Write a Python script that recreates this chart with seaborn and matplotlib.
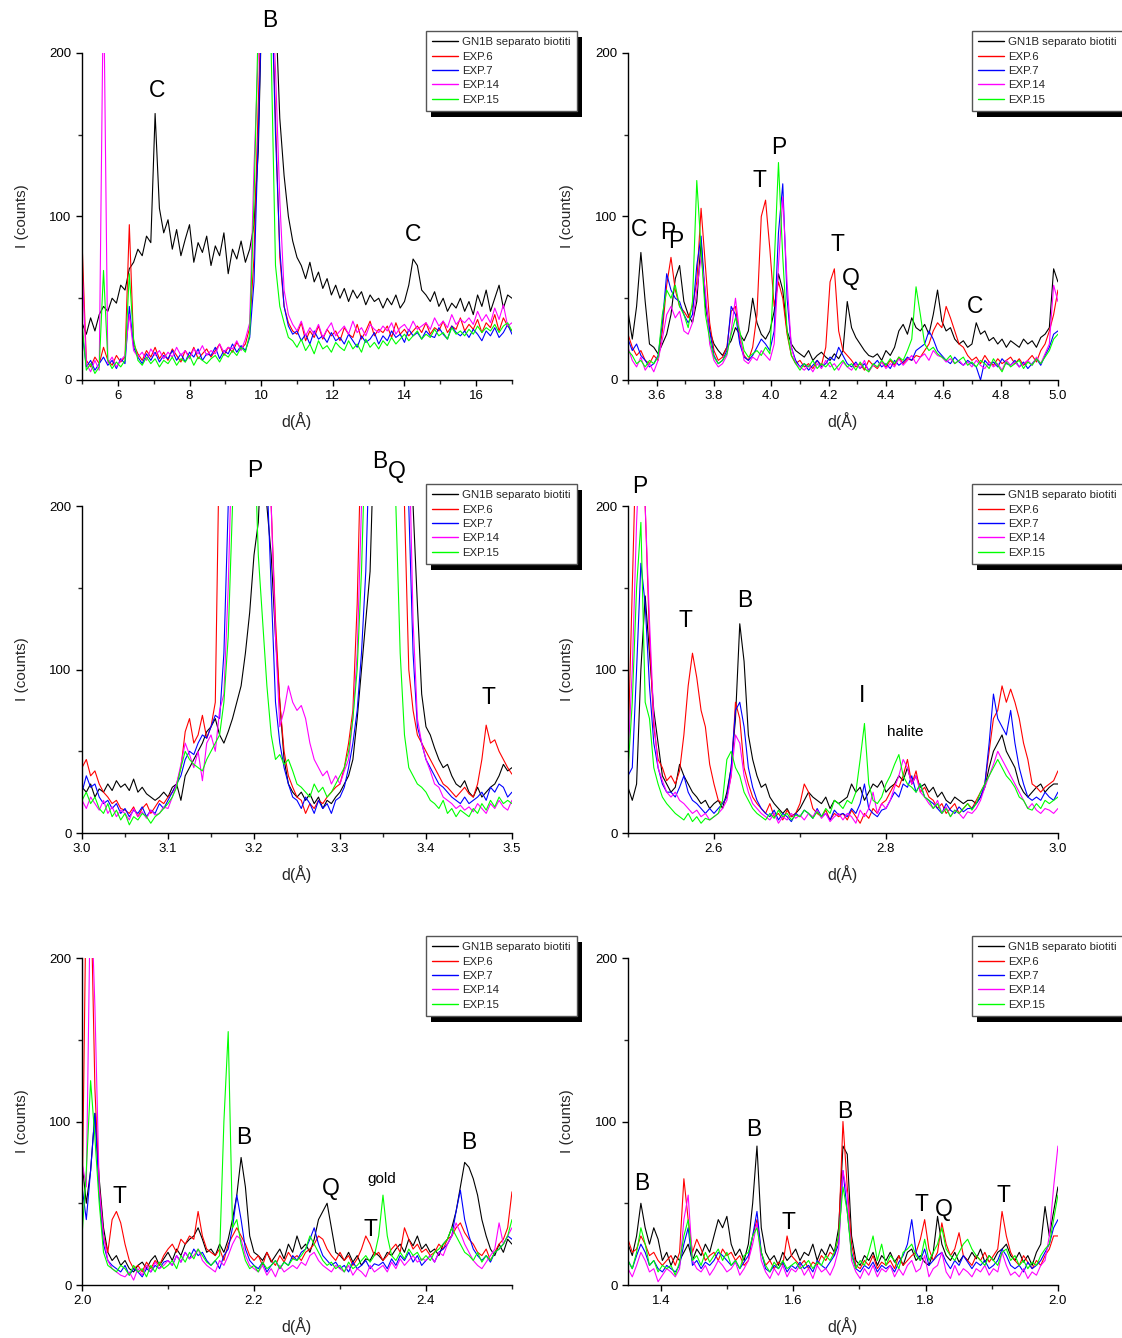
import numpy as np
import matplotlib
matplotlib.use("Agg")
import matplotlib.pyplot as plt
import seaborn as sns
from matplotlib.lines import Line2D
from matplotlib.patches import Rectangle
from matplotlib.ticker import MultipleLocator, FormatStrFormatter

series_names = ["GN1B separato biotiti", "EXP.6", "EXP.7", "EXP.14", "EXP.15"]
series_colors = ["#000000", "#FF0000", "#0000FF", "#FF00FF", "#00FF00"]

# ---------------- panel 1 : d 5 - 17 A ----------------
p1_range = (5.0, 17.0)
p1_black = [35, 28, 38, 30, 40, 45, 42, 50, 47, 58,
            55, 68, 72, 80, 76, 88, 84, 163, 105, 90,
            98, 80, 92, 76, 86, 95, 72, 84, 78, 88,
            70, 82, 76, 90, 65, 80, 74, 85, 72, 80,
            95, 140, 250, 250, 250, 230, 160, 125, 100, 85,
            75, 70, 62, 72, 60, 66, 56, 62, 52, 58,
            50, 56, 48, 55, 50, 54, 46, 52, 48, 50,
            44, 50, 46, 52, 44, 48, 58, 74, 70, 55,
            52, 48, 54, 45, 50, 42, 47, 44, 50, 42,
            48, 40, 52, 45, 55, 42, 50, 58, 44, 52, 50]
p1_exp6 = [85, 12, 8, 14, 10, 20, 12, 9, 15, 11,
           14, 95, 22, 16, 12, 18, 14, 20, 13, 17,
           12, 19, 15, 11, 18, 14, 20, 13, 16, 19,
           14, 18, 22, 15, 20, 17, 23, 19, 22, 32,
           75, 170, 250, 250, 250, 160, 75, 45, 35, 30,
           28, 35, 24, 30, 26, 33, 25, 31, 27, 30,
           24, 32, 28, 26, 34, 25, 30, 36, 27, 31,
           29, 33, 26, 35, 28, 31, 27, 30, 33, 29,
           35, 28, 32, 30, 36, 29, 33, 31, 38, 30,
           34, 31, 37, 29, 35, 32, 40, 30, 38, 33, 30]
p1_exp7 = [30, 8, 12, 6, 10, 14, 9, 12, 7, 13,
           10, 45, 20, 14, 10, 16, 12, 17, 11, 15,
           13, 18, 12, 16, 11, 17, 14, 19, 12, 16,
           15, 20, 13, 18, 16, 22, 17, 21, 18, 26,
           60, 150, 250, 250, 250, 150, 80, 45, 33, 28,
           30, 24, 28, 22, 30, 25, 27, 23, 29, 24,
           26, 22, 28, 24, 20, 27, 23, 25, 29, 22,
           27, 24, 30, 26, 28, 23, 31, 27, 29, 25,
           30, 27, 26, 32, 28, 25, 33, 29, 27, 30,
           26, 31, 28, 24, 30, 27, 32, 26, 29, 34, 28]
p1_exp14 = [70, 10, 5, 12, 6, 250, 10, 14, 8, 12,
            15, 40, 18, 14, 17, 12, 19, 15, 18, 13,
            17, 14, 20, 15, 18, 13, 19, 16, 21, 15,
            18, 16, 22, 17, 20, 19, 24, 18, 25, 35,
            130, 200, 250, 250, 250, 190, 110, 55, 40, 34,
            30, 36, 27, 32, 28, 34, 26, 31, 35, 27,
            30, 33, 28, 36, 29, 32, 27, 34, 31, 29,
            33, 30, 35, 28, 32, 34, 30, 36, 31, 33,
            35, 31, 38, 33, 36, 32, 40, 34, 37, 35,
            38, 34, 42, 36, 40, 35, 44, 37, 46, 33, 35]
p1_exp15 = [35, 6, 10, 4, 8, 67, 12, 7, 11, 8,
            12, 65, 25, 12, 9, 14, 10, 13, 8, 12,
            10, 14, 9, 13, 11, 15, 9, 14, 12, 10,
            13, 15, 11, 16, 14, 18, 15, 20, 17, 28,
            110, 220, 250, 250, 200, 70, 45, 35, 26, 24,
            20, 25, 18, 22, 16, 24, 19, 21, 17, 23,
            20, 18, 24, 19, 22, 17, 25, 20, 23, 19,
            24, 21, 26, 22, 25, 28, 24, 27, 30, 25,
            28, 26, 31, 27, 29, 25, 32, 28, 30, 27,
            31, 28, 33, 29, 32, 30, 34, 29, 33, 35, 30]

# ---------------- panel 2 : d 3.5 - 5.0 A ----------------
p2_range = (3.5, 5.0)
p2_black = [42, 25, 45, 78, 48, 22, 20, 16, 22, 28,
            40, 62, 70, 48, 40, 35, 48, 85, 45, 30,
            22, 18, 15, 20, 24, 32, 28, 24, 30, 50,
            35, 28, 25, 30, 42, 65, 55, 30, 22, 18,
            16, 14, 18, 12, 15, 17, 14, 12, 16, 13,
            18, 48, 32, 26, 22, 18, 15, 14, 16, 12,
            18, 15, 20, 30, 34, 28, 38, 32, 30, 34,
            28, 40, 55, 36, 30, 32, 25, 22, 24, 20,
            22, 35, 28, 30, 24, 26, 22, 25, 20, 24,
            22, 20, 25, 22, 24, 20, 26, 28, 32, 68, 60]
p2_exp6 = [28, 20, 15, 18, 12, 10, 15, 12, 30, 58,
           75, 55, 45, 42, 38, 45, 60, 105, 70, 35,
           18, 12, 14, 20, 42, 45, 25, 15, 12, 20,
           40, 100, 110, 80, 45, 60, 50, 28, 15, 10,
           12, 8, 10, 7, 12, 9, 20, 60, 68, 30,
           18, 15, 12, 8, 10, 6, 12, 9, 7, 11,
           8, 12, 9, 14, 10, 13, 12, 15, 14, 18,
           22, 30, 35, 32, 45, 38, 30, 22, 20, 15,
           12, 14, 10, 15, 11, 9, 13, 10, 12, 14,
           10, 13, 9, 12, 15, 11, 18, 22, 30, 40, 55]
p2_exp7 = [25, 18, 22, 15, 12, 8, 10, 15, 35, 65,
           55, 50, 48, 40, 35, 40, 70, 88, 50, 30,
           15, 10, 12, 18, 45, 40, 22, 14, 12, 15,
           20, 25, 22, 18, 30, 90, 120, 50, 20, 12,
           8, 10, 6, 9, 12, 8, 10, 14, 12, 20,
           15, 10, 8, 11, 7, 10, 6, 9, 12, 8,
           10, 7, 12, 9, 11, 14, 12, 18, 20, 22,
           30, 25, 18, 15, 12, 10, 14, 11, 9, 12,
           10, 8, 0, 12, 9, 11, 8, 13, 10, 9,
           12, 8, 11, 7, 10, 13, 9, 15, 20, 28, 30]
p2_exp14 = [20, 12, 8, 14, 6, 10, 5, 12, 25, 40,
            45, 38, 42, 30, 28, 35, 55, 75, 55, 22,
            12, 8, 10, 15, 30, 50, 28, 12, 10, 14,
            12, 18, 15, 12, 22, 70, 112, 60, 20, 10,
            8, 6, 9, 5, 10, 7, 12, 8, 10, 6,
            11, 8, 6, 10, 7, 12, 5, 9, 8, 11,
            7, 10, 8, 13, 9, 12, 15, 10, 14, 16,
            12, 18, 15, 14, 11, 13, 10, 12, 9, 11,
            8, 12, 9, 7, 11, 8, 10, 6, 12, 9,
            11, 8, 10, 12, 9, 14, 10, 16, 22, 58, 48]
p2_exp15 = [18, 15, 10, 12, 8, 12, 10, 14, 40, 55,
            50, 58, 45, 40, 32, 48, 122, 80, 40, 25,
            14, 10, 12, 16, 28, 38, 30, 18, 14, 16,
            18, 15, 20, 16, 70, 133, 75, 30, 15, 10,
            6, 10, 8, 12, 7, 10, 8, 11, 6, 9,
            12, 8, 10, 6, 11, 7, 5, 10, 8, 12,
            9, 13, 10, 14, 12, 18, 25, 57, 40, 22,
            18, 20, 16, 14, 12, 15, 10, 12, 14, 9,
            11, 8, 12, 10, 7, 13, 9, 5, 11, 8,
            10, 12, 7, 11, 9, 13, 10, 14, 18, 25, 28]

# ---------------- panel 3 : d 3.0 - 3.5 A ----------------
p3_range = (3.0, 3.5)
p3_black = [28, 25, 30, 22, 27, 25, 30, 26, 32, 28,
            30, 26, 33, 25, 28, 24, 22, 20, 22, 25,
            22, 28, 30, 20, 35, 40, 45, 50, 55, 62,
            65, 70, 60, 55, 62, 70, 80, 90, 110, 135,
            170, 190, 250, 200, 170, 120, 80, 45, 30, 25,
            22, 25, 20, 24, 18, 22, 15, 20, 18, 22,
            25, 30, 35, 45, 70, 100, 130, 160, 250, 250,
            250, 250, 250, 250, 250, 250, 250, 200, 140, 85,
            65, 60, 52, 45, 40, 42, 35, 30, 28, 32,
            25, 22, 28, 22, 25, 28, 30, 35, 42, 38, 40]
p3_exp6 = [40, 45, 35, 38, 30, 25, 22, 18, 20, 15,
           14, 12, 16, 10, 15, 18, 12, 16, 20, 18,
           22, 25, 30, 40, 62, 70, 55, 60, 72, 58,
           65, 80, 250, 250, 250, 250, 250, 250, 250, 250,
           250, 250, 250, 250, 200, 130, 80, 50, 35, 28,
           22, 20, 12, 18, 15, 20, 18, 22, 25, 28,
           30, 40, 55, 75, 140, 250, 250, 250, 250, 250,
           250, 250, 250, 250, 250, 200, 100, 75, 60, 55,
           50, 45, 40, 35, 30, 28, 25, 22, 25, 28,
           24, 22, 30, 45, 66, 55, 57, 50, 45, 40, 36]
p3_exp7 = [25, 35, 28, 30, 22, 18, 20, 15, 18, 12,
           15, 10, 14, 12, 16, 10, 14, 12, 18, 15,
           20, 25, 30, 35, 45, 50, 48, 55, 60, 58,
           65, 72, 70, 110, 200, 250, 250, 250, 250, 250,
           250, 250, 250, 220, 150, 80, 55, 40, 30, 22,
           20, 15, 22, 18, 12, 20, 15, 18, 12, 20,
           22, 28, 40, 55, 75, 110, 160, 250, 250, 250,
           250, 250, 250, 250, 250, 250, 200, 110, 65, 55,
           45, 40, 35, 30, 28, 25, 22, 20, 18, 22,
           18, 20, 22, 25, 20, 28, 25, 30, 28, 22, 25]
p3_exp14 = [20, 15, 22, 18, 14, 20, 12, 16, 10, 14,
            12, 8, 15, 10, 13, 9, 14, 11, 12, 16,
            15, 22, 30, 42, 55, 48, 40, 50, 32, 55,
            60, 50, 75, 85, 150, 250, 250, 250, 250, 250,
            250, 250, 250, 250, 200, 120, 65, 75, 90, 80,
            75, 78, 70, 55, 45, 40, 35, 38, 30, 35,
            30, 38, 45, 70, 110, 200, 250, 250, 250, 250,
            250, 250, 250, 250, 250, 250, 250, 130, 70, 55,
            45, 38, 30, 28, 22, 20, 18, 15, 17, 14,
            16, 13, 18, 15, 12, 18, 15, 20, 16, 14, 20]
p3_exp15 = [20, 25, 18, 22, 15, 12, 18, 10, 14, 8,
            12, 5, 10, 8, 12, 10, 6, 10, 12, 15,
            18, 22, 28, 40, 50, 45, 42, 40, 38, 45,
            50, 55, 60, 80, 120, 200, 250, 250, 250, 250,
            250, 170, 130, 90, 60, 45, 48, 42, 45, 38,
            30, 28, 25, 22, 30, 25, 28, 22, 25, 30,
            35, 40, 50, 70, 100, 160, 250, 250, 250, 250,
            250, 250, 250, 200, 110, 60, 40, 35, 30, 28,
            25, 20, 18, 15, 20, 12, 15, 10, 14, 12,
            10, 15, 12, 18, 14, 20, 16, 22, 18, 20, 18]

# ---------------- panel 4 : d 2.5 - 3.0 A ----------------
p4_range = (2.5, 3.0)
p4_black = [28, 20, 30, 100, 145, 110, 75, 55, 35, 30,
            25, 28, 42, 35, 30, 25, 22, 18, 20, 15,
            18, 20, 15, 25, 40, 70, 128, 105, 60, 45,
            35, 28, 30, 22, 18, 15, 12, 15, 10, 12,
            15, 20, 25, 22, 20, 18, 22, 15, 20, 18,
            20, 22, 30, 25, 28, 20, 25, 30, 28, 32,
            25, 28, 30, 35, 32, 40, 30, 35, 28, 30,
            25, 28, 22, 25, 20, 18, 22, 20, 18, 20,
            20, 18, 22, 28, 40, 50, 55, 60, 50, 45,
            40, 30, 25, 22, 25, 28, 30, 25, 28, 30, 30]
p4_exp6 = [50, 150, 250, 250, 200, 120, 65, 45, 40, 32,
           35, 30, 38, 60, 90, 110, 95, 75, 65, 42,
           30, 20, 18, 22, 35, 80, 70, 40, 30, 22,
           18, 15, 12, 18, 10, 12, 8, 14, 10, 12,
           18, 30, 25, 15, 12, 10, 14, 8, 12, 10,
           12, 8, 14, 10, 6, 12, 9, 15, 12, 18,
           20, 25, 30, 28, 35, 45, 30, 38, 25, 28,
           22, 20, 15, 18, 12, 15, 18, 12, 15, 18,
           15, 20, 25, 30, 50, 70, 75, 90, 80, 88,
           80, 70, 55, 45, 30, 28, 25, 28, 30, 32, 38]
p4_exp7 = [35, 40, 100, 165, 140, 90, 55, 40, 30, 25,
           25, 22, 28, 35, 25, 20, 18, 15, 12, 15,
           12, 15, 18, 22, 40, 75, 80, 65, 40, 28,
           20, 15, 12, 10, 14, 8, 12, 10, 7, 12,
           10, 14, 12, 9, 15, 10, 12, 8, 14, 11,
           12, 10, 15, 12, 18, 30, 15, 12, 10, 14,
           15, 20, 25, 22, 30, 28, 35, 25, 30, 22,
           20, 18, 15, 12, 18, 14, 12, 16, 13, 15,
           15, 18, 22, 30, 55, 85, 70, 65, 60, 75,
           55, 40, 30, 22, 20, 22, 20, 25, 22, 20, 25]
p4_exp14 = [45, 100, 190, 250, 200, 130, 70, 40, 32, 25,
            22, 25, 20, 18, 15, 12, 14, 10, 12, 8,
            10, 12, 15, 20, 35, 60, 55, 35, 25, 18,
            15, 12, 10, 8, 12, 6, 10, 8, 12, 9,
            11, 8, 12, 10, 14, 9, 12, 7, 10, 12,
            8, 12, 10, 6, 14, 10, 15, 25, 12, 18,
            15, 20, 28, 35, 45, 40, 30, 35, 25, 22,
            18, 15, 20, 12, 16, 10, 14, 12, 9, 13,
            12, 15, 20, 28, 35, 42, 50, 45, 40, 35,
            30, 25, 20, 15, 18, 14, 12, 15, 14, 12, 15]
p4_exp15 = [38, 80, 150, 190, 80, 70, 40, 30, 22, 18,
            15, 12, 10, 8, 12, 7, 10, 6, 9, 8,
            10, 12, 20, 45, 50, 40, 35, 25, 20, 15,
            12, 10, 8, 12, 9, 14, 10, 12, 8, 11,
            10, 14, 12, 9, 13, 10, 15, 12, 20, 18,
            15, 20, 18, 25, 45, 67, 30, 20, 18, 22,
            30, 35, 42, 48, 35, 30, 28, 25, 30, 22,
            20, 15, 18, 12, 15, 10, 14, 12, 15, 18,
            14, 18, 25, 30, 35, 40, 45, 40, 35, 32,
            28, 22, 20, 15, 14, 18, 15, 20, 18, 20, 22]

# ---------------- panel 5 : d 2.0 - 2.5 A ----------------
p5_range = (2.0, 2.5)
p5_black = [75, 50, 70, 105, 65, 35, 20, 15, 18, 12,
            15, 10, 8, 12, 14, 10, 15, 18, 12, 16,
            20, 15, 22, 18, 25, 28, 30, 35, 28, 20,
            22, 18, 25, 20, 28, 40, 55, 78, 60, 30,
            20, 18, 15, 20, 14, 18, 22, 16, 25, 20,
            30, 22, 25, 20, 28, 40, 45, 50, 35, 20,
            18, 15, 20, 14, 18, 12, 16, 15, 20, 18,
            15, 20, 18, 22, 25, 20, 28, 24, 30, 22,
            25, 20, 22, 18, 25, 28, 35, 45, 60, 75,
            72, 65, 55, 40, 30, 22, 18, 25, 20, 28, 25]
p5_exp6 = [40, 250, 250, 120, 60, 30, 20, 40, 45, 38,
           25, 15, 10, 12, 8, 14, 10, 15, 12, 18,
           22, 25, 20, 28, 25, 30, 28, 45, 30, 22,
           20, 18, 22, 15, 25, 30, 35, 30, 25, 18,
           15, 18, 12, 20, 15, 12, 18, 14, 20, 16,
           18, 15, 20, 22, 25, 30, 28, 22, 18, 15,
           20, 15, 18, 12, 16, 22, 30, 25, 18, 20,
           15, 18, 22, 25, 20, 35, 28, 22, 25, 20,
           22, 18, 20, 25, 22, 28, 30, 35, 38, 32,
           28, 25, 20, 18, 22, 15, 20, 25, 28, 35, 57]
p5_exp7 = [60, 40, 70, 105, 55, 25, 15, 12, 10, 8,
           12, 6, 10, 8, 5, 10, 8, 12, 10, 14,
           15, 12, 18, 14, 20, 16, 22, 18, 20, 15,
           12, 15, 10, 18, 22, 35, 55, 40, 22, 15,
           12, 10, 14, 8, 12, 15, 10, 14, 12, 18,
           15, 20, 22, 28, 35, 25, 18, 15, 12, 14,
           10, 12, 8, 14, 10, 12, 15, 10, 13, 12,
           14, 10, 16, 12, 18, 15, 20, 14, 18, 12,
           15, 18, 14, 20, 22, 25, 30, 45, 58, 40,
           30, 22, 18, 15, 18, 14, 20, 22, 25, 30, 28]
p5_exp14 = [75, 60, 250, 170, 60, 30, 15, 10, 8, 6,
            5, 8, 3, 10, 6, 12, 8, 14, 10, 12,
            15, 12, 18, 14, 20, 16, 18, 22, 15, 12,
            10, 8, 15, 12, 18, 25, 30, 28, 18, 12,
            10, 8, 12, 6, 10, 5, 12, 8, 10, 12,
            10, 14, 12, 18, 20, 15, 12, 10, 8, 12,
            10, 8, 12, 6, 10, 8, 5, 12, 8, 10,
            12, 8, 14, 10, 16, 12, 15, 18, 14, 16,
            15, 18, 14, 20, 18, 25, 30, 38, 32, 25,
            20, 15, 12, 10, 14, 18, 22, 38, 25, 30, 35]
p5_exp15 = [30, 70, 125, 90, 50, 20, 12, 10, 8, 12,
            10, 6, 12, 8, 10, 5, 12, 8, 14, 10,
            12, 15, 10, 18, 14, 20, 16, 22, 18, 14,
            12, 15, 18, 100, 155, 35, 40, 25, 15, 10,
            12, 8, 14, 10, 12, 15, 10, 14, 12, 16,
            15, 18, 22, 30, 25, 20, 15, 12, 14, 10,
            12, 8, 14, 10, 12, 15, 18, 14, 18, 30,
            55, 30, 18, 15, 20, 16, 22, 18, 20, 15,
            18, 15, 20, 22, 25, 28, 35, 30, 25, 20,
            18, 15, 20, 14, 18, 15, 20, 22, 25, 30, 40]

# ---------------- panel 6 : d 1.35 - 2.0 A ----------------
p6_range = (1.35, 2.0)
p6_black = [25, 18, 30, 50, 35, 25, 35, 28, 15, 20,
            12, 18, 15, 20, 25, 15, 22, 18, 25, 20,
            30, 40, 35, 42, 25, 18, 22, 15, 25, 50,
            85, 35, 20, 15, 18, 12, 20, 15, 18, 22,
            15, 20, 18, 25, 15, 22, 18, 25, 20, 35,
            85, 80, 30, 15, 12, 18, 15, 20, 12, 18,
            15, 20, 14, 18, 12, 20, 22, 15, 18, 14,
            12, 20, 42, 25, 18, 15, 20, 14, 18, 15,
            20, 16, 22, 14, 18, 15, 20, 22, 25, 18,
            15, 20, 14, 18, 12, 20, 25, 48, 30, 45, 60]
p6_exp6 = [28, 20, 22, 30, 25, 18, 20, 15, 12, 15,
           18, 12, 20, 65, 40, 20, 28, 22, 15, 18,
           20, 15, 22, 18, 20, 15, 18, 12, 15, 30,
           40, 20, 12, 15, 10, 14, 12, 30, 18, 15,
           12, 15, 10, 14, 12, 18, 15, 20, 18, 30,
           100, 60, 25, 12, 10, 15, 12, 18, 10, 14,
           12, 15, 10, 18, 12, 15, 18, 20, 28, 40,
           22, 15, 20, 38, 25, 18, 22, 32, 18, 15,
           12, 18, 15, 20, 14, 18, 22, 45, 30, 20,
           15, 12, 18, 14, 10, 15, 12, 18, 22, 30, 30]
p6_exp7 = [15, 10, 18, 25, 20, 12, 15, 10, 8, 12,
           10, 8, 12, 25, 35, 12, 15, 10, 14, 12,
           15, 20, 18, 15, 12, 15, 10, 14, 18, 30,
           45, 20, 10, 8, 12, 10, 14, 8, 12, 10,
           14, 10, 12, 8, 15, 12, 10, 14, 18, 25,
           70, 45, 20, 10, 8, 12, 10, 14, 8, 12,
           10, 12, 8, 14, 18, 25, 40, 20, 15, 22,
           12, 15, 18, 20, 14, 10, 15, 12, 18, 14,
           10, 14, 12, 15, 10, 12, 15, 22, 18, 12,
           10, 12, 8, 14, 10, 12, 15, 20, 25, 35, 40]
p6_exp14 = [10, 5, 12, 20, 15, 8, 10, 2, 6, 10,
            8, 5, 10, 40, 55, 15, 10, 8, 12, 6,
            10, 15, 12, 8, 10, 14, 6, 10, 15, 25,
            38, 15, 8, 4, 10, 6, 12, 5, 10, 8,
            12, 6, 10, 4, 12, 8, 10, 6, 12, 22,
            70, 55, 15, 8, 4, 10, 6, 12, 5, 10,
            8, 12, 5, 10, 6, 12, 15, 8, 10, 18,
            5, 10, 12, 20, 8, 4, 12, 6, 10, 8,
            5, 10, 8, 12, 6, 10, 8, 20, 12, 6,
            8, 5, 10, 4, 8, 6, 12, 15, 30, 60, 85]
p6_exp15 = [15, 10, 20, 35, 25, 12, 15, 8, 12, 10,
            12, 6, 14, 30, 40, 15, 18, 12, 20, 14,
            18, 22, 15, 20, 12, 15, 10, 18, 20, 30,
            35, 20, 12, 8, 14, 10, 15, 10, 12, 14,
            10, 12, 15, 10, 14, 12, 18, 15, 20, 30,
            60, 45, 18, 10, 15, 12, 20, 30, 15, 25,
            12, 18, 15, 10, 20, 22, 25, 18, 15, 28,
            15, 20, 25, 35, 22, 18, 15, 20, 25, 28,
            22, 18, 15, 12, 18, 15, 12, 20, 22, 15,
            18, 12, 15, 10, 14, 12, 18, 22, 25, 40, 55]

# phase labels: (text, d, I, small)
p1_labels = [("B", 10.25, 220, False), ("C", 7.09, 177, False), ("C", 14.24, 89, False)]
p2_labels = [("C", 3.538, 92, False), ("P", 3.64, 90, False), ("P", 3.667, 85, False),
             ("T", 3.96, 122, False), ("P", 4.027, 142, False), ("T", 4.229, 83, False),
             ("Q", 4.278, 62, False), ("C", 4.71, 45, False)]
p3_labels = [("P", 3.201, 222, False), ("B", 3.3465, 227, False), ("Q", 3.366, 221, False),
             ("T", 3.473, 83, False)]
p4_labels = [("P", 2.514, 212, False), ("T", 2.567, 130, False), ("B", 2.636, 142, False),
             ("I", 2.772, 84, False), ("halite", 2.823, 62, True)]
p5_labels = [("T", 2.044, 54, False), ("B", 2.188, 90, False), ("Q", 2.2895, 59, False),
             ("gold", 2.348, 65, True), ("T", 2.335, 34, False), ("B", 2.45, 87, False)]
p6_labels = [("B", 1.371, 62, False), ("B", 1.540, 95, False), ("T", 1.592, 38, False),
             ("B", 1.677, 106, False), ("T", 1.793, 49, False), ("Q", 1.828, 46, False),
             ("T", 1.918, 55, False)]

panels = [
    (p1_range, [p1_black, p1_exp6, p1_exp7, p1_exp14, p1_exp15], p1_labels, 2.0, 1.0, "%d"),
    (p2_range, [p2_black, p2_exp6, p2_exp7, p2_exp14, p2_exp15], p2_labels, 0.2, 0.1, "%.1f"),
    (p3_range, [p3_black, p3_exp6, p3_exp7, p3_exp14, p3_exp15], p3_labels, 0.1, 0.05, "%.1f"),
    (p4_range, [p4_black, p4_exp6, p4_exp7, p4_exp14, p4_exp15], p4_labels, 0.2, 0.1, "%.1f"),
    (p5_range, [p5_black, p5_exp6, p5_exp7, p5_exp14, p5_exp15], p5_labels, 0.2, 0.1, "%.1f"),
    (p6_range, [p6_black, p6_exp6, p6_exp7, p6_exp14, p6_exp15], p6_labels, 0.2, 0.1, "%.1f"),
]

sns.set_style("ticks")
plt.rcParams["font.family"] = ["Liberation Sans", "DejaVu Sans"]

fig = plt.figure(figsize=(11.22, 13.38), dpi=100)
col_x = [0.0731, 0.5597]
row_y = [0.7160, 0.3774, 0.0396]
AW, AH = 0.3832, 0.2444

axes_legends = []
for k, (rng, series, labels, maj, mnr, fmt) in enumerate(panels):
    r, c = divmod(k, 2)
    ax = fig.add_axes([col_x[c], row_y[r], AW, AH])
    for vals, col in zip(series, series_colors):
        xs = np.linspace(rng[0], rng[1], len(vals))
        sns.lineplot(x=xs, y=vals, ax=ax, color=col, lw=0.8,
                     estimator=None, sort=False, legend=False)
    ax.set_xlim(rng)
    ax.set_ylim(0, 200)
    ax.xaxis.set_major_locator(MultipleLocator(maj))
    ax.xaxis.set_minor_locator(MultipleLocator(mnr))
    ax.xaxis.set_major_formatter(FormatStrFormatter(fmt))
    ax.yaxis.set_major_locator(MultipleLocator(100))
    ax.yaxis.set_minor_locator(MultipleLocator(50))
    ax.yaxis.set_major_formatter(FormatStrFormatter("%d"))
    ax.tick_params(which="major", direction="out", length=4.5, width=1,
                   labelsize=9.5, pad=3, colors="black")
    ax.tick_params(which="minor", direction="out", length=3, width=1)
    for s in ["top", "right"]:
        ax.spines[s].set_visible(False)
    for s in ["left", "bottom"]:
        ax.spines[s].set_linewidth(1.0)
        ax.spines[s].set_color("black")
    ax.set_xlabel("d(Å)", fontsize=11.5, labelpad=7)
    ax.set_ylabel("I (counts)", fontsize=11, labelpad=15)
    for txt, xd, yd, small in labels:
        ax.text(xd, yd, txt, fontsize=11 if small else 16.5, ha="center",
                va="center", clip_on=False, color="black")
    handles = [Line2D([0], [0], color=col, lw=1) for col in series_colors]
    leg = ax.legend(handles, series_names, loc="upper left",
                    bbox_to_anchor=(0.80, 1.067), borderaxespad=0,
                    fontsize=8.2, frameon=True, fancybox=False, framealpha=1,
                    edgecolor="#555555", borderpad=0.55, labelspacing=0.38,
                    handlelength=2.3, handletextpad=0.3)
    leg.get_frame().set_linewidth(1.0)
    axes_legends.append((ax, leg))

fig.canvas.draw()
renderer = fig.canvas.get_renderer()
for ax, leg in axes_legends:
    bb = leg.get_frame().get_window_extent(renderer)
    inv = ax.transAxes.inverted()
    (x0, y0) = inv.transform((bb.x0 + 5, bb.y0 - 6))
    (x1, y1) = inv.transform((bb.x1 + 5, bb.y1 - 6))
    ax.add_patch(Rectangle((x0, y0), x1 - x0, y1 - y0, transform=ax.transAxes,
                           facecolor="black", edgecolor="none", clip_on=False,
                           zorder=4.5))

fig.savefig("out.png", dpi=100)
